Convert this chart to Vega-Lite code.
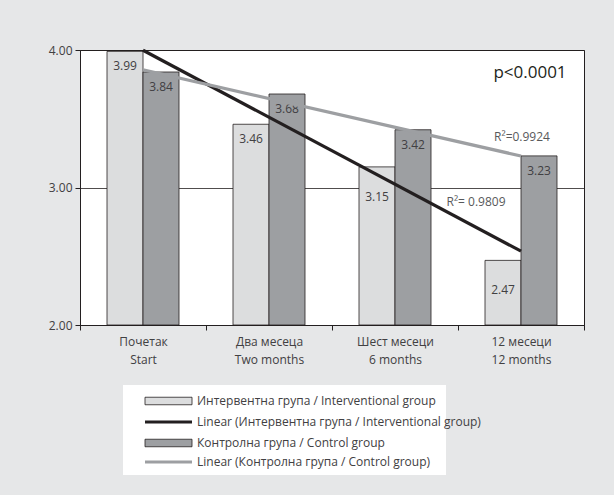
{
  "$schema": "https://vega.github.io/schema/vega-lite/v6.json",
  "width": 504,
  "height": 275,
  "autosize": {"type": "none"},
  "padding": {"left": 80, "top": 50, "right": 30, "bottom": 170},
  "background": "#e6e7e8",
  "config": {
    "font": "Open Sans",
    "view": {"fill": "white", "stroke": "#231f20", "strokeWidth": 1},
    "axis": {"labelFont": "Open Sans", "labelFontSize": 12, "labelColor": "#414042", "domainColor": "#231f20", "tickColor": "#231f20", "title": null},
    "legend": {"labelFont": "Open Sans", "labelFontSize": 12, "labelColor": "#414042", "labelLimit": 500, "symbolSize": 64, "symbolOffset": 12, "labelOffset": 40, "padding": 10, "direction": "vertical", "symbolOpacity": 1}
  },
  "datasets": {
    "bars": [
      {"period": "Почетак|Start", "series": "Интервентна група / Interventional group", "value": 3.99},
      {"period": "Почетак|Start", "series": "Контролна група / Control group", "value": 3.84},
      {"period": "Два месеца|Two months", "series": "Интервентна група / Interventional group", "value": 3.46},
      {"period": "Два месеца|Two months", "series": "Контролна група / Control group", "value": 3.68},
      {"period": "Шест месеци|6 months", "series": "Интервентна група / Interventional group", "value": 3.15},
      {"period": "Шест месеци|6 months", "series": "Контролна група / Control group", "value": 3.42},
      {"period": "12 месеци|12 months", "series": "Интервентна група / Interventional group", "value": 2.47},
      {"period": "12 месеци|12 months", "series": "Контролна група / Control group", "value": 3.23}
    ],
    "trends": [
      {"period": "Почетак|Start", "series": "Linear (Интервентна група / Interventional group)", "value": 3.998},
      {"period": "12 месеци|12 months", "series": "Linear (Интервентна група / Interventional group)", "value": 2.537},
      {"period": "Почетак|Start", "series": "Linear (Контролна група / Control group)", "value": 3.856},
      {"period": "12 месеци|12 months", "series": "Linear (Контролна група / Control group)", "value": 3.229}
    ],
    "pnote": [{"period": "12 месеци|12 months", "value": 3.83, "note": "p<0.0001"}],
    "r2a": [{"period": "12 месеци|12 months", "value": 3.37, "note": "R²=0.9924"}],
    "r2b": [{"period": "12 месеци|12 months", "value": 2.895, "note": "R²= 0.9809"}]
  },
  "layer": [
    {
      "data": {"name": "bars"},
      "mark": {"type": "bar", "stroke": "#231f20", "strokeWidth": 0.8},
      "encoding": {
        "x": {
          "field": "period", "type": "nominal",
          "sort": ["Почетак|Start", "Два месеца|Two months", "Шест месеци|6 months", "12 месеци|12 months"],
          "scale": {"domain": ["Почетак|Start", "Два месеца|Two months", "Шест месеци|6 months", "12 месеци|12 months"], "paddingInner": 0, "paddingOuter": 0},
          "axis": {"tickBand": "extent", "labelExpr": "split(datum.label, '|')", "labelPadding": 6, "tickSize": 5, "labelLineHeight": 18, "labelAngle": 0, "grid": false, "labelBaseline": "top"}
        },
        "xOffset": {
          "field": "series", "type": "nominal",
          "sort": ["Интервентна група / Interventional group", "Контролна група / Control group"],
          "scale": {"paddingInner": 0, "paddingOuter": 0.75}
        },
        "y": {
          "field": "value", "type": "quantitative",
          "scale": {"domain": [2, 4], "zero": false, "nice": false},
          "axis": {"values": [2, 3, 4], "format": ".2f", "grid": true, "gridColor": "#231f20", "gridWidth": 0.8, "tickSize": 5, "labelPadding": 3}
        },
        "y2": {"datum": 2},
        "fill": {
          "field": "series", "type": "nominal",
          "scale": {
            "domain": ["Интервентна група / Interventional group", "Контролна група / Control group"],
            "range": ["#dcddde", "#9d9fa2"]
          },
          "legend": {
            "title": "\u00a0\u00a0\u00a0\u00a0\u00a0\u00a0\u00a0\u00a0\u00a0\u00a0\u00a0\u00a0\u00a0\u00a0\u00a0\u00a0\u00a0\u00a0\u00a0\u00a0\u00a0\u00a0\u00a0\u00a0\u00a0\u00a0\u00a0\u00a0\u00a0\u00a0\u00a0\u00a0\u00a0\u00a0\u00a0\u00a0\u00a0\u00a0\u00a0\u00a0\u00a0\u00a0\u00a0\u00a0\u00a0\u00a0\u00a0\u00a0\u00a0\u00a0\u00a0\u00a0\u00a0\u00a0\u00a0\u00a0\u00a0\u00a0\u00a0\u00a0\u00a0\u00a0\u00a0\u00a0\u00a0\u00a0\u00a0\u00a0\u00a0\u00a0\u00a0\u00a0\u00a0\u00a0\u00a0\u00a0\u00a0\u00a0\u00a0\u00a0\u00a0\u00a0\u00a0\u00a0\u00a0\u00a0\u00a0\u00a0\u00a0\u00a0\u00a0\u00a0\u00a0\u00a0\u00a0\u00a0\u00a0\u00a0\u00a0\u00a0\u00a0\u00a0\u00a0\u00a0\u00a0\u00a0\u00a0\u00a0\u00a0\u00a0\u00a0\u00a0\u00a0\u00a0\u00a0\u00a0\u00a0\u00a0\u00a0\u00a0\u00a0\u00a0\u00a0\u00a0\u00a0\u00a0\u00a0\u00a0\u00a0\u00a0\u00a0\u00a0\u00a0",
            "titleOrient": "bottom", "titlePadding": 5, "titleFontSize": 12, "titleLimit": 600,
            "orient": "none", "legendX": 43, "legendY": 335, "zindex": 0,
            "fillColor": "white", "rowPadding": 30,
            "symbolType": "M-1.5,-0.94H10.25V0.94H-1.5Z",
            "symbolStrokeColor": "#231f20", "symbolStrokeWidth": 0.8
          }
        }
      }
    },
    {
      "data": {"name": "bars"},
      "transform": [{"filter": "datum.value > 3.2 || datum.series == 'Контролна група / Control group'"}],
      "mark": {"type": "text", "dy": 15, "fontSize": 12, "color": "#414042", "baseline": "middle"},
      "encoding": {
        "x": {"field": "period", "type": "nominal"},
        "xOffset": {"field": "series", "type": "nominal"},
        "y": {"field": "value", "type": "quantitative"},
        "text": {"field": "value", "type": "quantitative", "format": ".2f"}
      }
    },
    {
      "data": {"name": "bars"},
      "transform": [{"filter": "datum.value <= 3.2 && datum.series == 'Интервентна група / Interventional group'"}],
      "mark": {"type": "text", "dy": 30, "fontSize": 12, "color": "#414042", "baseline": "middle"},
      "encoding": {
        "x": {"field": "period", "type": "nominal"},
        "xOffset": {"field": "series", "type": "nominal"},
        "y": {"field": "value", "type": "quantitative"},
        "text": {"field": "value", "type": "quantitative", "format": ".2f"}
      }
    },
    {
      "data": {"name": "trends"},
      "mark": {"type": "line", "strokeWidth": 3.2},
      "encoding": {
        "x": {"field": "period", "type": "nominal"},
        "y": {"field": "value", "type": "quantitative"},
        "stroke": {
          "field": "series", "type": "nominal",
          "scale": {
            "domain": ["Linear (Интервентна група / Interventional group)", "Linear (Контролна група / Control group)"],
            "range": ["#231f20", "#9d9fa2"]
          },
          "legend": {
            "title": null,
            "orient": "none", "legendX": 43, "legendY": 356, "zindex": 1,
            "rowPadding": 28,
            "symbolType": "M-1.5,0H10.25",
            "symbolStrokeWidth": 3, "symbolFillColor": "transparent"
          }
        }
      }
    },
    {
      "data": {"name": "pnote"},
      "mark": {"type": "text", "fontSize": 17, "dx": 9, "color": "#231f20", "baseline": "middle"},
      "encoding": {
        "x": {"field": "period", "type": "nominal"},
        "y": {"field": "value", "type": "quantitative"},
        "text": {"field": "note"}
      }
    },
    {
      "data": {"name": "r2a"},
      "mark": {"type": "text", "fontSize": 12, "dx": 1, "color": "#58595b", "baseline": "middle"},
      "encoding": {
        "x": {"field": "period", "type": "nominal"},
        "y": {"field": "value", "type": "quantitative"},
        "text": {"field": "note"}
      }
    },
    {
      "data": {"name": "r2b"},
      "mark": {"type": "text", "fontSize": 12, "dx": -45, "color": "#58595b", "baseline": "middle"},
      "encoding": {
        "x": {"field": "period", "type": "nominal"},
        "y": {"field": "value", "type": "quantitative"},
        "text": {"field": "note"}
      }
    }
  ]
}
